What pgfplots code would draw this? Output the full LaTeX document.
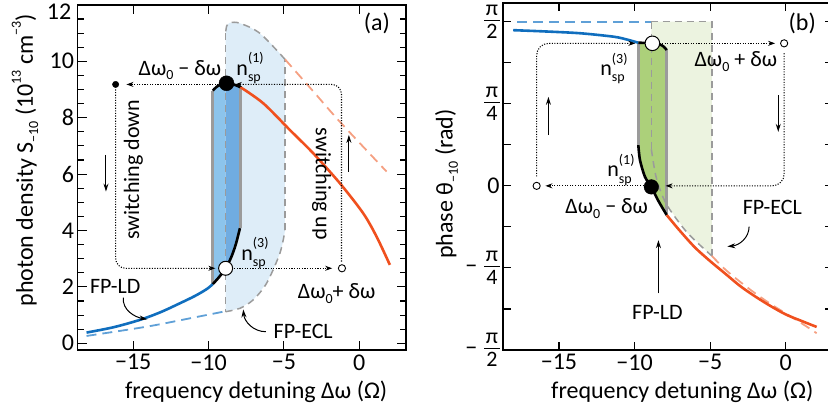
\documentclass[border=0pt]{standalone}
\usepackage{fontspec}
\setmainfont{Carlito}
\usepackage{pgfplots}
\pgfplotsset{compat=1.18}
\usetikzlibrary{arrows.meta}

\definecolor{cblue}{RGB}{16,110,190}
\definecolor{cdblue}{RGB}{95,160,215}
\definecolor{cfillA}{RGB}{222,237,248}
\definecolor{cfillB1}{RGB}{140,196,236}
\definecolor{cfillB2}{RGB}{112,172,225}
\definecolor{corange}{RGB}{240,80,30}
\definecolor{cpink}{RGB}{245,160,130}
\definecolor{cgfill}{RGB}{236,243,224}
\definecolor{cgdark}{RGB}{172,208,122}
\definecolor{cgray}{RGB}{155,155,155}

\newcommand{\an}{\fontsize{22}{24}\selectfont}
\newcommand{\lab}{\fontsize{24}{28}\selectfont}
\newcommand{\sub}[1]{\raisebox{-0.22em}{\fontsize{14}{14}\selectfont #1}}
\newcommand{\sups}[1]{\raisebox{0.5em}{\fontsize{14}{14}\selectfont #1}}
\newcommand{\nsp}[1]{n\rlap{\raisebox{-0.3em}{\fontsize{14}{14}\selectfont sp}}\raisebox{0.55em}{\fontsize{14}{14}\selectfont (#1)}}
\newcommand{\pifrac}[1]{{\fontsize{22}{24}\selectfont$\vcenter{\offinterlineskip\halign{\hfil##\hfil\cr\kern1.5pt π\kern1.5pt\cr\noalign{\kern4pt\hrule height1.3pt\kern3pt}#1\cr}}$}}

\tikzset{
  dotl/.style={black, line width=1.05pt, dash pattern=on 1.1pt off 1.5pt, -{Stealth[length=7pt,width=5pt]}},
  gdash/.style={cgray, line width=1.5pt, dash pattern=on 7pt off 5pt},
  sarrow/.style={black, line width=1pt, -{Stealth[length=8pt,width=5pt]}},
}
\pgfplotsset{
  panel/.style={
    scale only axis, clip=false,
    xmin=-18.7, xmax=3.1,
    xtick={-15,-10,-5,0},
    xticklabels={−15,−10,−5,0},
    tick align=inside,
    major tick length=9pt, minor tick length=6pt,
    tick style={line width=1.1pt, black},
    axis line style={line width=1.4pt},
    tick label style={font=\lab},
    xticklabel style={yshift=-1pt},
    xlabel={frequency detuning Δω (Ω)},
    label style={font=\lab},
    xlabel style={at={(rel axis cs:0.544,-0.12)}, anchor=center},
  },
}

\begin{document}
\begin{tikzpicture}
\useasboundingbox (0,0) rectangle (828pt,409pt);

% ---------------- panel (a) ----------------
\begin{axis}[panel, at={(77.5pt,59pt)}, anchor=south west,
  width=328.5pt, height=345.1pt,
  ymin=-0.238, ymax=12,
  ytick={0,2,4,6,8,10,12}, yticklabels={0,2,4,6,8,10,{}},
  minor y tick num=3,
  ylabel={photon density S\sub{−10} (10\sups{13} cm\sups{−3})},
  ylabel style={at={(rel axis cs:-0.16,0.55)}, anchor=center},
]
% light blue FP-ECL region
\addplot[fill=cfillA, draw=none] coordinates {(-8.87,1.12) (-7.92,1.24) (-7.04,1.54) (-6.15,2.13) (-5.6,2.75) (-5.27,3.19) (-5.05,3.6) (-4.93,4.0) (-4.93,10.07) (-5.8,10.6) (-6.59,10.99) (-7.3,11.22) (-7.92,11.35) (-8.58,11.37) (-8.8,11.28) (-8.87,11.0)} -- cycle;
% darker blue regions
\addplot[fill=cfillB1, draw=none] coordinates {(-9.72,2.1) (-9.3,2.35) (-8.87,2.66) (-8.87,9.22) (-9.2,9.18) (-9.5,9.08) (-9.72,8.96)} -- cycle;
\addplot[fill=cfillB2, draw=none] coordinates {(-8.87,2.66) (-8.5,3.05) (-8.2,3.5) (-7.88,4.08) (-7.88,9.08) (-8.4,9.19) (-8.87,9.22)} -- cycle;
% gray dashed boundary
\addplot[gdash, smooth] coordinates {(-8.87,1.12) (-7.92,1.24) (-7.04,1.54) (-6.15,2.13) (-5.27,3.19) (-4.93,4.0)};
\addplot[gdash] coordinates {(-4.93,4.0) (-4.93,10.07)};
\addplot[gdash, smooth] coordinates {(-4.93,10.07) (-6.59,10.99) (-7.92,11.35) (-8.58,11.37) (-8.8,11.25) (-8.87,11.0)};
\addplot[gdash] coordinates {(-8.87,11.0) (-8.87,1.12)};
% gray solid verticals
\addplot[cgray, line width=3pt] coordinates {(-9.72,2.1) (-9.72,8.96)};
\addplot[cgray, line width=3pt] coordinates {(-7.88,4.08) (-7.88,9.08)};
% blue dashed
\addplot[cdblue, line width=1.8pt, dash pattern=on 10pt off 6pt, smooth] coordinates {(-18.1,0.26) (-14.1,0.59) (-11.2,0.89) (-9.03,1.12)};
% pink dashed
\addplot[cpink, line width=1.8pt, dash pattern=on 10pt off 6pt, smooth] coordinates {(-4.93,10.07) (-3,8.9) (-1.28,7.85) (1.81,6.09)};
% blue solid
\addplot[cblue, line width=2.6pt, smooth] coordinates {(-18.1,0.38) (-16.3,0.57) (-14.56,0.83) (-13.2,1.1) (-11.9,1.42) (-10.9,1.68) (-10.13,1.92) (-9.72,2.1)};
% black
\addplot[black, line width=2.6pt, smooth] coordinates {(-9.72,2.1) (-9.3,2.35) (-8.87,2.66) (-8.5,3.05) (-8.2,3.5) (-7.92,4.08)};
\addplot[black, line width=2.6pt, smooth] coordinates {(-9.72,8.96) (-9.5,9.08) (-9.2,9.18) (-8.85,9.22) (-8.4,9.19) (-7.88,9.08)};
% orange
\addplot[corange, line width=2.6pt, smooth] coordinates {(-7.88,9.08) (-6.37,8.51) (-4.6,7.56) (-3.06,6.74) (-1.28,5.67) (0.26,4.61) (1.15,3.78) (2.03,2.78)};
% dotted switching paths
\addplot[dotl] coordinates {(-8.3,2.66) (-1.8,2.66)};
\addplot[dotl, rounded corners=10pt] coordinates {(-1.18,2.9) (-1.18,9.18) (-8.25,9.18)};
\addplot[dotl] coordinates {(-9.35,9.18) (-15.45,9.18)};
\addplot[dotl, rounded corners=10pt] coordinates {(-16.17,9.0) (-16.17,2.66) (-9.55,2.66)};
% markers
\addplot[only marks, mark=*, mark size=7.5pt, black] coordinates {(-8.81,9.22)};
\addplot[only marks, mark=*, mark size=7pt, mark options={fill=white, draw=black, line width=1pt}] coordinates {(-8.87,2.66)};
\addplot[only marks, mark=*, mark size=3.2pt, black] coordinates {(-16.17,9.18)};
\addplot[only marks, mark=*, mark size=3.6pt, mark options={fill=white, draw=black, line width=0.9pt}] coordinates {(-1.15,2.66)};
% small arrows
\addplot[sarrow] coordinates {(-16.81,6.68) (-16.81,5.38)};
\addplot[sarrow] coordinates {(-0.69,6.09) (-0.69,7.39)};
% curved arrows
\draw[sarrow] (axis cs:-15.66,1.62) to[out=-95,in=170] (axis cs:-14.07,0.85);
\draw[sarrow] (axis cs:-6.2,0.41) to[out=180,in=-85] (axis cs:-7.7,1.2);
% texts
\node[font=\lab] at (axis cs:1.17,11.35) {(a)};
\node[font=\an] at (axis cs:-11.9,9.69) {Δω\sub{0} − δω};
\node[font=\an] at (axis cs:-7.25,9.75) {\nsp{1}};
\node[font=\an, rotate=90] at (axis cs:-15,6.15) {switching down};
\node[font=\an, rotate=-90] at (axis cs:-2.5,5.65) {switching up};
\node[font=\an] at (axis cs:-6.92,3.19) {\nsp{3}};
\node[font=\an] at (axis cs:-1.5,1.77) {Δω\sub{0}+ δω};
\node[font=\an] at (axis cs:-16.2,2.0) {FP-LD};
\node[font=\an] at (axis cs:-3.72,0.41) {FP-ECL};
\node[font=\lab, anchor=east, inner sep=0pt] at (rel axis cs:0,1) [xshift=-6pt, yshift=-7pt] {12};
\end{axis}

% ---------------- panel (b) ----------------
\begin{axis}[panel, at={(503.1pt,59pt)}, anchor=south west,
  width=329.4pt, height=347pt,
  ymin=-1.5708, ymax=1.75,
  ytick={-1.5708,-0.7854,0,0.7854,1.5708},
  yticklabels={{−\hspace{7pt}\pifrac{2}},{−\hspace{7pt}\pifrac{4}},0,\pifrac{4},\pifrac{2}},
  minor ytick={-1.1781,-0.3927,0.3927,1.1781},
  minor tick length=8pt, major tick length=8pt,
  ylabel={phase θ\sub{−10} (rad)},
  ylabel style={at={(rel axis cs:-0.172,0.478)}, anchor=center},
]
% light green region
\addplot[fill=cgfill, draw=none] coordinates {(-8.89,1.5708) (-4.89,1.5708) (-4.89,-0.67) (-6.5,-0.45) (-7.7,-0.22) (-8.2,-0.08) (-8.6,0.1) (-8.89,0.35)} -- cycle;
% dark green region
\addplot[fill=cgdark, draw=none] coordinates {(-9.75,1.37) (-8.82,1.364) (-7.87,1.31) (-7.87,-0.28) (-8.45,-0.137) (-8.89,-0.01) (-9.31,0.086) (-9.64,0.246) (-9.75,0.39)} -- cycle;
% dashed
\addplot[cdblue, line width=1.8pt, dash pattern=on 10pt off 6pt] coordinates {(-17.76,1.5708) (-8.93,1.5708)};
\addplot[gdash] coordinates {(-8.93,1.5708) (-4.89,1.5708) (-4.89,-0.67)};
\addplot[gdash] coordinates {(-8.89,1.5708) (-8.89,0.35)};
\addplot[gdash, smooth] coordinates {(-8.89,0.35) (-8.6,0.1) (-8.2,-0.08) (-7.7,-0.22) (-6.5,-0.45) (-4.89,-0.67)};
% gray solid verticals
\addplot[cgray, line width=3pt] coordinates {(-9.75,1.37) (-9.75,0.39)};
\addplot[cgray, line width=3pt] coordinates {(-7.87,1.31) (-7.87,-0.28)};
% pink dashed
\addplot[cpink, line width=1.8pt, dash pattern=on 10pt off 6pt, smooth] coordinates {(-4.89,-0.67) (-4,-0.80) (-3,-0.92) (-2,-1.03) (-1,-1.13) (0,-1.22) (1,-1.31) (2.05,-1.41)};
% blue solid
\addplot[cblue, line width=2.6pt, smooth] coordinates {(-18.03,1.49) (-15.8,1.477) (-13.56,1.46) (-11.36,1.427) (-10.5,1.40) (-9.75,1.37)};
% black
\addplot[black, line width=2.6pt, smooth] coordinates {(-9.75,1.37) (-8.82,1.364) (-8.2,1.345) (-7.87,1.30)};
\addplot[black, line width=2.6pt, smooth] coordinates {(-9.75,0.39) (-9.64,0.246) (-9.31,0.086) (-8.89,-0.01) (-8.45,-0.137) (-7.87,-0.28)};
% orange
\addplot[corange, line width=2.6pt, smooth] coordinates {(-7.87,-0.28) (-7.0,-0.43) (-6.0,-0.59) (-5.0,-0.72) (-4.0,-0.84) (-3.0,-0.96) (-2.0,-1.06) (-1.0,-1.15) (0,-1.23) (1.0,-1.29) (2.05,-1.35)};
% dotted paths
\addplot[dotl] coordinates {(-8.35,1.364) (-0.7,1.364)};
\addplot[dotl, rounded corners=12pt] coordinates {(-0.1,1.27) (-0.1,0) (-7.95,0)};
\addplot[dotl] coordinates {(-9.4,0) (-15.9,0)};
\addplot[dotl, rounded corners=12pt] coordinates {(-16.48,0.09) (-16.48,1.364) (-9.95,1.364)};
% markers
\addplot[only marks, mark=*, mark size=7.3pt, mark options={fill=white, draw=black, line width=1pt}] coordinates {(-8.82,1.364)};
\addplot[only marks, mark=*, mark size=7.3pt, black] coordinates {(-8.89,-0.01)};
\addplot[only marks, mark=*, mark size=3.6pt, mark options={fill=white, draw=black, line width=0.9pt}] coordinates {(-0.1,1.364) (-16.48,0)};
% small arrows
\addplot[sarrow] coordinates {(-15.7,0.486) (-15.7,0.852)};
\addplot[sarrow] coordinates {(-0.49,0.869) (-0.49,0.517)};
\addplot[sarrow] coordinates {(-8.42,-1.03) (-8.42,-0.52)};
\draw[sarrow] (axis cs:-2.42,-0.39) to[out=-90,in=5] (axis cs:-3.86,-0.58);
% texts
\node[font=\lab] at (axis cs:1.1,1.556) {(b)};
\node[font=\an] at (axis cs:-11.36,1.124) {\nsp{3}};
\node[font=\an] at (axis cs:-3.3,1.19) {Δω\sub{0} + δω};
\node[font=\an] at (axis cs:-10.9,0.15) {\nsp{1}};
\node[font=\an] at (axis cs:-11.84,-0.216) {Δω\sub{0} − δω};
\node[font=\an] at (axis cs:-0.88,-0.207) {FP-ECL};
\node[font=\an] at (axis cs:-8.49,-1.207) {FP-LD};
\end{axis}
\end{tikzpicture}
\end{document}
